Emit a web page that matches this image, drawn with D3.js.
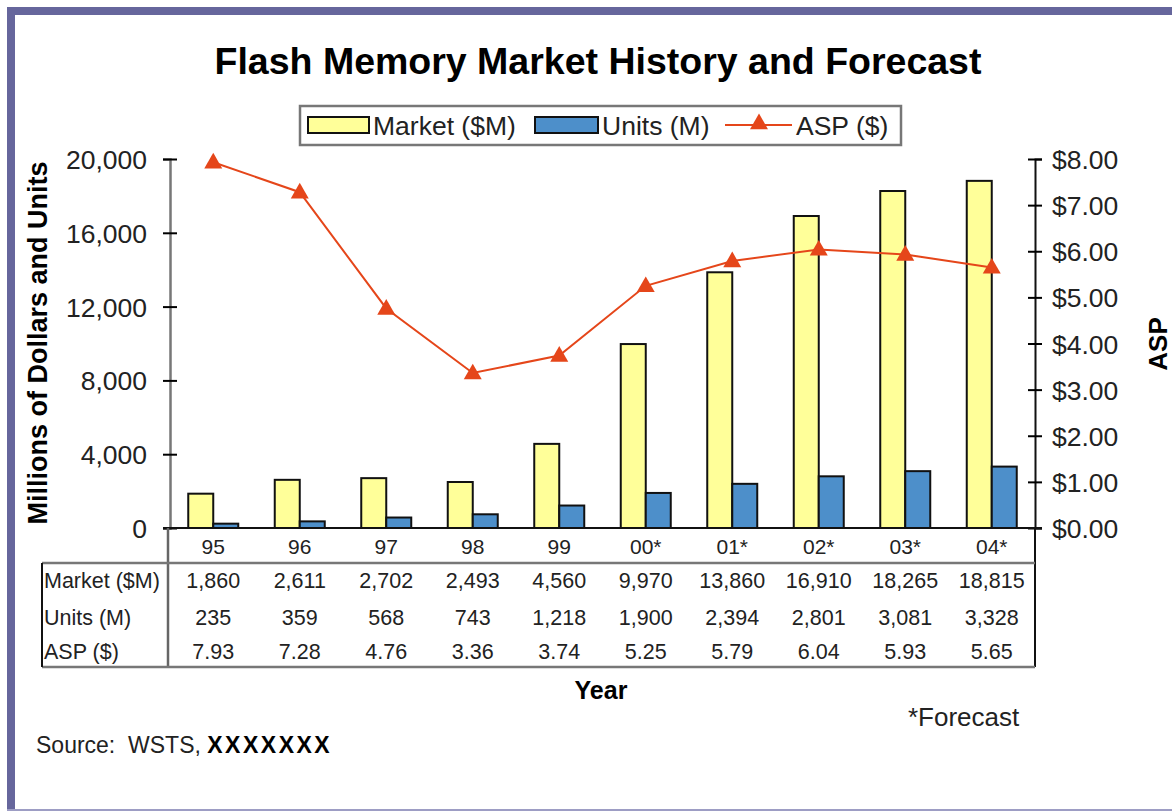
<!DOCTYPE html>
<html>
<head>
<meta charset="utf-8">
<script src="https://cdn.jsdelivr.net/npm/d3@7"></script>
<style>
  body { margin: 0; background: #fff; }
  svg { display: block; font-family: "Liberation Sans", Arial, Helvetica, sans-serif; }
</style>
</head>
<body>
<div id="chart"></div>
<script>
// chart data
var years = ["95", "96", "97", "98", "99", "00*", "01*", "02*", "03*", "04*"];
var market = [1860, 2611, 2702, 2493, 4560, 9970, 13860, 16910, 18265, 18815];
var units = [235, 359, 568, 743, 1218, 1900, 2394, 2801, 3081, 3328];
var asp = [7.93, 7.28, 4.76, 3.36, 3.74, 5.25, 5.79, 6.04, 5.93, 5.65];
var leftTicks = [0, 4000, 8000, 12000, 16000, 20000];
var rightTicks = [0, 1, 2, 3, 4, 5, 6, 7, 8];
var rowNames = ["Market ($M)", "Units (M)", "ASP ($)"];

var W = 1172, H = 812;
var plot = { left: 170, right: 1035, top: 159, bottom: 528 };
var colYellow = "#ffff99", colBlue = "#4d8fca", colLine = "#e5461a", frame = "#66669c";

var svg = d3.select("#chart").append("svg")
    .attr("width", W)
    .attr("height", H);

// frame
svg.append("rect").attr("x", 0).attr("y", 0).attr("width", W).attr("height", H).attr("fill", "#fff");
svg.append("rect").attr("x", 7).attr("y", 7).attr("width", W - 7).attr("height", 8).attr("fill", frame);
svg.append("rect").attr("x", 7).attr("y", 7).attr("width", 8).attr("height", 803).attr("fill", frame);
svg.append("rect").attr("x", 7).attr("y", 809).attr("width", W - 7).attr("height", 2).attr("fill", "#9d9dc4");

// title
svg.append("text")
    .attr("x", 598).attr("y", 74)
    .attr("text-anchor", "middle")
    .style("font-size", "37.5px").style("font-weight", "bold")
    .text("Flash Memory Market History and Forecast");

// scales
var x = d3.scaleBand().domain(years).range([plot.left, plot.right]).padding(0);
var yL = d3.scaleLinear().domain([0, 20000]).range([plot.bottom, plot.top]);
var yR = d3.scaleLinear().domain([0, 8]).range([plot.bottom, plot.top]);
var barW = 25;
var cx = function(d) { return x(d) + x.bandwidth() / 2; };

// bars
var g = svg.append("g");
g.selectAll(".mkt").data(years).enter().append("rect")
    .attr("class", "mkt")
    .attr("x", function(d) { return cx(d) - barW; })
    .attr("y", function(d, i) { return yL(market[i]); })
    .attr("width", barW)
    .attr("height", function(d, i) { return yL(0) - yL(market[i]); })
    .attr("fill", colYellow).attr("stroke", "#111").attr("stroke-width", 2);
g.selectAll(".unt").data(years).enter().append("rect")
    .attr("class", "unt")
    .attr("x", function(d) { return cx(d); })
    .attr("y", function(d, i) { return yL(units[i]); })
    .attr("width", barW)
    .attr("height", function(d, i) { return yL(0) - yL(units[i]); })
    .attr("fill", colBlue).attr("stroke", "#111").attr("stroke-width", 2);

// ASP line
var line = d3.line()
    .x(function(d, i) { return cx(years[i]); })
    .y(function(d) { return yR(d); });
svg.append("path").datum(asp)
    .attr("d", line)
    .attr("fill", "none").attr("stroke", colLine).attr("stroke-width", 2);
svg.selectAll(".tri").data(asp).enter().append("path")
    .attr("class", "tri")
    .attr("d", d3.symbol().type(d3.symbolTriangle).size(140))
    .attr("transform", function(d, i) { return "translate(" + cx(years[i]) + "," + (yR(d) + 1) + ")"; })
    .attr("fill", colLine);

// axes
var axL = svg.append("g")
    .attr("transform", "translate(" + plot.left + ",0)")
    .call(d3.axisLeft(yL).tickValues(leftTicks).tickSize(7).tickPadding(16).tickFormat(d3.format(",")));
axL.select(".domain").attr("stroke", "#777").attr("stroke-width", 2.5);
axL.selectAll(".tick line").attr("x1", 7).attr("x2", -7).attr("stroke-width", 2);
axL.selectAll("text").style("font-size", "26.5px").attr("fill", "#222").attr("dy", "0.36em");

var axR = svg.append("g")
    .attr("transform", "translate(" + plot.right + ",0)")
    .call(d3.axisRight(yR).tickValues(rightTicks).tickSize(7).tickPadding(10)
        .tickFormat(function(d) { return "$" + d3.format(".2f")(d); }));
axR.select(".domain").attr("stroke", "#111").attr("stroke-width", 2);
axR.selectAll(".tick line").attr("x1", -7).attr("x2", 7).attr("stroke-width", 2);
axR.selectAll("text").style("font-size", "26.5px").attr("fill", "#222").attr("dy", "0.36em");

// x baseline + table
var tb = { left: 42, top: 563, bottom: 667 };
svg.append("line").attr("x1", plot.left - 7).attr("x2", plot.right + 7)
    .attr("y1", plot.bottom).attr("y2", plot.bottom).attr("stroke", "#111").attr("stroke-width", 2);
svg.append("line").attr("x1", 168).attr("x2", 168).attr("y1", plot.bottom).attr("y2", tb.bottom)
    .attr("stroke", "#666").attr("stroke-width", 2.5);
svg.append("line").attr("x1", plot.right).attr("x2", plot.right).attr("y1", plot.bottom).attr("y2", tb.bottom)
    .attr("stroke", "#111").attr("stroke-width", 2);
svg.append("line").attr("x1", tb.left).attr("x2", plot.right).attr("y1", tb.top).attr("y2", tb.top)
    .attr("stroke", "#777").attr("stroke-width", 2.5);
svg.append("line").attr("x1", tb.left).attr("x2", plot.right).attr("y1", tb.bottom).attr("y2", tb.bottom)
    .attr("stroke", "#777").attr("stroke-width", 2.5);
svg.append("line").attr("x1", tb.left).attr("x2", tb.left).attr("y1", tb.top).attr("y2", tb.bottom)
    .attr("stroke", "#111").attr("stroke-width", 2);

svg.selectAll(".yr").data(years).enter().append("text")
    .attr("class", "yr")
    .attr("x", function(d) { return cx(d); }).attr("y", 554)
    .attr("text-anchor", "middle").style("font-size", "21px").attr("fill", "#222")
    .text(function(d) { return d; });

var rowY = [588, 625, 659];
var rows = [market, units, asp];
var fmt = [d3.format(","), d3.format(","), d3.format(".2f")];
rowNames.forEach(function(name, r) {
    svg.append("text").attr("x", 44).attr("y", rowY[r])
        .style("font-size", "21.5px").attr("fill", "#222").text(name);
    svg.selectAll(".row" + r).data(rows[r]).enter().append("text")
        .attr("class", "row" + r)
        .attr("x", function(d, i) { return cx(years[i]); }).attr("y", rowY[r])
        .attr("text-anchor", "middle").style("font-size", "21.5px").attr("fill", "#222")
        .text(function(d) { return fmt[r](d); });
});

// axis titles
svg.append("text")
    .attr("transform", "translate(47,343)rotate(-90)")
    .attr("text-anchor", "middle").style("font-size", "27px").style("font-weight", "bold")
    .text("Millions of Dollars and Units");
svg.append("text")
    .attr("transform", "translate(1167,344)rotate(-90)")
    .attr("text-anchor", "middle").style("font-size", "26px").style("font-weight", "bold")
    .text("ASP");
svg.append("text")
    .attr("x", 601).attr("y", 699)
    .attr("text-anchor", "middle").style("font-size", "25px").style("font-weight", "bold")
    .text("Year");

// legend
var lg = svg.append("g");
lg.append("rect").attr("x", 300).attr("y", 106).attr("width", 601).attr("height", 39)
    .attr("fill", "#fff").attr("stroke", "#777").attr("stroke-width", 2.5);
lg.append("rect").attr("x", 308).attr("y", 117).attr("width", 61).attr("height", 16)
    .attr("fill", colYellow).attr("stroke", "#111").attr("stroke-width", 2);
lg.append("text").attr("x", 373).attr("y", 135).style("font-size", "26.5px").attr("fill", "#222").text("Market ($M)");
lg.append("rect").attr("x", 535).attr("y", 117).attr("width", 63).attr("height", 16)
    .attr("fill", colBlue).attr("stroke", "#111").attr("stroke-width", 2);
lg.append("text").attr("x", 602).attr("y", 135).style("font-size", "26.5px").attr("fill", "#222").text("Units (M)");
lg.append("line").attr("x1", 725).attr("x2", 792).attr("y1", 125).attr("y2", 125)
    .attr("stroke", colLine).attr("stroke-width", 2);
lg.append("path").attr("d", d3.symbol().type(d3.symbolTriangle).size(140))
    .attr("transform", "translate(759,124)").attr("fill", colLine);
lg.append("text").attr("x", 796).attr("y", 135).style("font-size", "26.5px").attr("fill", "#222").text("ASP ($)");

// footnotes
svg.append("text").attr("x", 908).attr("y", 726).style("font-size", "26px").attr("fill", "#222").text("*Forecast");
var src = svg.append("text").attr("x", 36).attr("y", 753).style("font-size", "23px").attr("fill", "#222");
src.append("tspan").text("Source:\u00a0 WSTS, ");
src.append("tspan").style("font-weight", "bold").style("letter-spacing", "2.5px").attr("fill", "#000").text("XXXXXXX");
</script>
</body>
</html>
